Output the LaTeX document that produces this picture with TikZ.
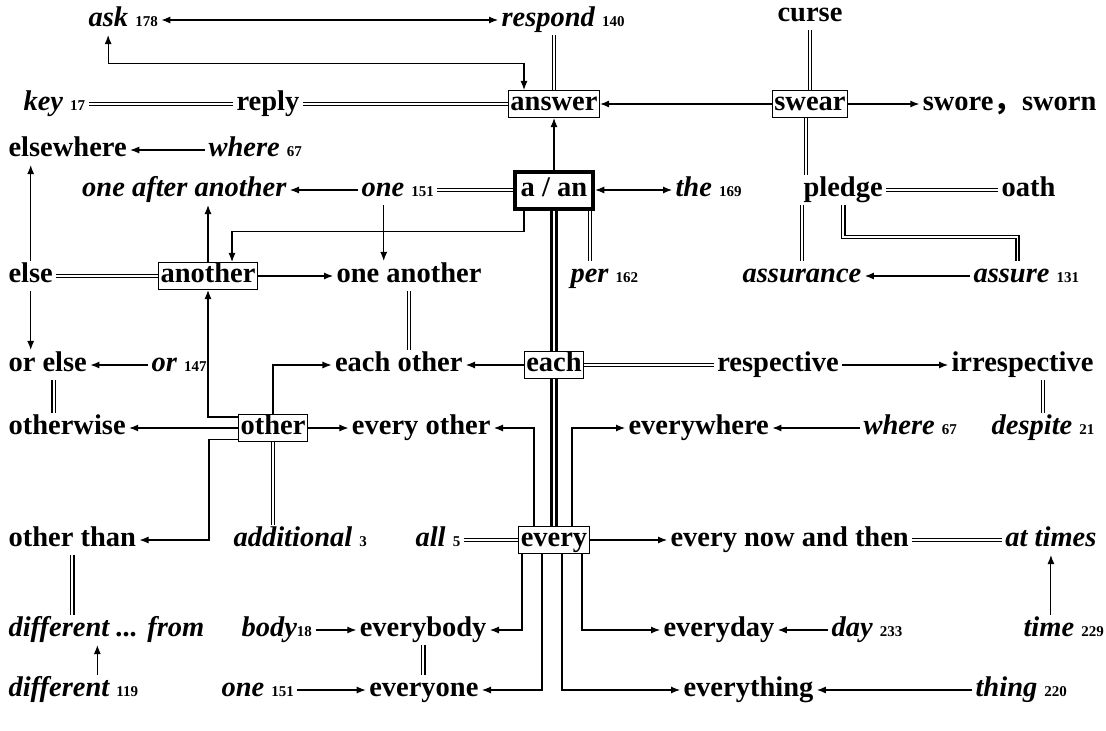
\documentclass[tikz,border=0pt]{standalone}
\usepackage{fontspec}
\setmainfont{Liberation Serif}
\newfontfamily\cjk{Noto Sans CJK SC}
\usetikzlibrary{arrows.meta}
\newcommand\freq[1]{{\upshape\fontsize{15}{15}\selectfont #1}}
\begin{document}
\begin{tikzpicture}[x=1pt,y=1pt,>={Latex[length=9pt,width=7pt]},line width=1.1pt]
\tikzstyle{word}=[font=\fontsize{28.5}{30}\selectfont\bfseries,inner xsep=3pt,inner ysep=2pt,text height=19pt,text depth=6pt]
\tikzstyle{iword}=[word,font=\fontsize{28.5}{30}\selectfont\bfseries\itshape]
\tikzstyle{box}=[word,draw,fill=white,inner xsep=2pt,inner ysep=1pt]
\tikzstyle{thickbox}=[box,line width=4pt,inner xsep=6pt,inner ysep=6pt]
\tikzstyle{syn}=[double,double distance=1.6pt,line width=1.6pt]
\tikzstyle{trunk}=[double,double distance=2.6pt,line width=2.4pt]
\useasboundingbox (0,0) rectangle (1106,-731);
\node[iword,anchor=west] (ask) at (85,-20) {ask \freq{178}};
\node[iword,anchor=west] (respond) at (498,-20) {respond \freq{140}};
\node[word] (curse) at (810,-15) {curse};
\node[iword,anchor=west] (key) at (20,-104) {key \freq{17}};
\node[word] (reply) at (268,-104) {reply};
\node[box] (answer) at (554,-104) {answer};
\node[box] (swear) at (810,-104) {swear};
\node[word,anchor=east] (swore) at (1100,-104) {swore{\cjk ，}sworn};
\node[word,anchor=west] (elsewhere) at (5,-150) {elsewhere};
\node[iword,anchor=west] (where) at (205,-150) {where \freq{67}};
\node[iword,anchor=east] (oneafter) at (290,-190) {one after another};
\node[iword,anchor=west] (one) at (358,-190) {one \freq{151}};
\node[thickbox] (aan) at (554,-190) {a / an};
\node[iword,anchor=west] (the) at (672,-190) {the \freq{169}};
\node[word,anchor=west] (pledge) at (800,-190) {pledge};
\node[word,anchor=west] (oath) at (998,-190) {oath};
\node[word,anchor=west] (else) at (5,-276) {else};
\node[box] (another) at (208,-276) {another};
\node[word,anchor=west] (oneanother) at (333,-276) {one another};
\node[iword,anchor=west] (per) at (567,-276) {per \freq{162}};
\node[iword] (assurance) at (802,-276) {assurance};
\node[iword,anchor=west] (assure) at (970,-276) {assure \freq{131}};
\node[word,anchor=west] (orelse) at (5,-365) {or else};
\node[iword,anchor=west] (or) at (148,-365) {or \freq{147}};
\node[word,anchor=east] (eachother) at (466,-365) {each other};
\node[box] (each) at (554,-365) {each};
\node[word] (respective) at (778,-365) {respective};
\node[word,anchor=east] (irrespective) at (1097,-365) {irrespective};
\node[word,anchor=west] (otherwise) at (5,-428) {otherwise};
\node[box] (other) at (273,-428) {other};
\node[word,anchor=east] (everyother) at (494,-428) {every other};
\node[word,anchor=west] (everywhere) at (625,-428) {everywhere};
\node[iword,anchor=west] (where2) at (860,-428) {where \freq{67}};
\node[iword,anchor=east] (despite) at (1098,-428) {despite \freq{21}};
\node[word,anchor=west] (otherthan) at (5,-540) {other than};
\node[iword,anchor=west] (additional) at (230,-540) {additional \freq{3}};
\node[iword,anchor=west] (all) at (412,-540) {all \freq{5}};
\node[box] (every) at (554,-540) {every};
\node[word,anchor=west] (everynow) at (667,-540) {every now and then};
\node[iword,anchor=east] (attimes) at (1100,-540) {at times};
\node[iword,anchor=west] (difffrom) at (5,-630) {different ... from};
\node[iword,anchor=west] (body) at (238,-630) {body\freq{18}};
\node[word,anchor=east] (everybody) at (490,-630) {everybody};
\node[word,anchor=west] (everyday) at (660,-630) {everyday};
\node[iword,anchor=west] (day) at (828,-630) {day \freq{233}};
\node[iword,anchor=west] (time) at (1020,-630) {time \freq{229}};
\node[iword,anchor=west] (diff) at (5,-690) {different \freq{119}};
\node[iword,anchor=west] (one2) at (218,-690) {one \freq{151}};
\node[word,anchor=east] (everyone) at (482,-690) {everyone};
\node[word,anchor=west] (everything) at (680,-690) {everything};
\node[iword,anchor=west] (thing) at (972,-690) {thing \freq{220}};
\draw[<->] (ask.east) -- (respond.west);
\draw[<->] ([xshift=-15pt]ask.south) -- ++(0,-28) -| ([xshift=-30pt]answer.north);
\draw[syn] (answer.north) -- (answer.north |- respond.south);
\draw[syn] (key.east) -- (reply.west);
\draw[syn] (reply.east) -- (answer.west);
\draw[->] (swear.west) -- (answer.east);
\draw[syn] (swear.north) -- (swear.north |- curse.south);
\draw[->] (swear.east) -- (swore.west);
\draw[syn] ([xshift=-4pt]swear.south) -- ([xshift=-4pt]swear.south |- pledge.north);
\draw[syn] (pledge.east) -- (oath.west);
\draw[syn] (assurance.north) -- (assurance.north |- pledge.south);
\draw[syn] (pledge.south) -- ++(0,-32) -| ([xshift=-9pt]assure.north);
\draw[->] (assure.west) -- (assurance.east);
\draw[->] (aan.north) -- (answer.south);
\draw[syn] (one.east) -- (aan.west);
\draw[<->] (aan.east) -- (the.west);
\draw[->] (one.west) -- (oneafter.east);
\draw[->] ([xshift=-14pt]one.south) -- ([xshift=-14pt]one.south |- oneanother.north);
\draw[->] ([xshift=-30pt]aan.south) -- ++(0,-21) -| ([xshift=24pt]another.north);
\draw[->] (another.north) -- (another.north |- oneafter.south);
\draw[->] (another.east) -- (oneanother.west);
\draw[syn] (else.east) -- (another.west);
\draw[->] (else.north) -- (else.north |- elsewhere.south);
\draw[->] (where.west) -- (elsewhere.east);
\draw[->] (else.south) -- (else.south |- orelse.north);
\draw[->] (or.west) -- (orelse.east);
\draw[syn] ([xshift=6pt]orelse.south) -- ([xshift=6pt]orelse.south |- otherwise.north);
\draw[syn] ([xshift=36pt]aan.south) -- ([xshift=36pt]aan.south |- per.north);
\draw[trunk] (aan.south) -- (each.north);
\draw[trunk] (each.south) -- (every.north);
\draw[->] (each.west) -- (eachother.east);
\draw[syn] (each.east) -- (respective.west);
\draw[->] (respective.east) -- (irrespective.west);
\draw[syn] (despite.north) -- (despite.north |- irrespective.south);
\draw[syn] (oneanother.south) -- (oneanother.south |- eachother.north);
\draw[->] ([yshift=-3pt]other.north west) -| (another.south);
\draw[->] (other.north) |- (eachother.west);
\draw[->] (other.west) -- (otherwise.east);
\draw[->] (other.east) -- (everyother.west);
\draw[->] ([yshift=3pt]other.south west) -- ++(-29,0) |- (otherthan.east);
\draw[syn] (other.south) -- (other.south |- additional.north);
\draw[->] ([xshift=-20pt]every.north) |- (everyother.east);
\draw[->] ([xshift=18pt]every.north) |- (everywhere.west);
\draw[syn] (all.east) -- (every.west);
\draw[->] (every.east) -- (everynow.west);
\draw[syn] (everynow.east) -- (attimes.west);
\draw[->] (attimes.south |- time.north) -- (attimes.south);
\draw[->] ([xshift=-32pt]every.south) |- (everybody.east);
\draw[->] ([xshift=-12pt]every.south) |- (everyone.east);
\draw[->] ([xshift=8pt]every.south) |- (everything.west);
\draw[->] ([xshift=28pt]every.south) |- (everyday.west);
\draw[->] (day.west) -- (everyday.east);
\draw[->] (thing.west) -- (everything.east);
\draw[->] (body.east) -- (everybody.west);
\draw[->] (one2.east) -- (everyone.west);
\draw[syn] (everybody.south) -- (everybody.south |- everyone.north);
\draw[syn] (otherthan.south) -- (otherthan.south |- difffrom.north);
\draw[->] ([xshift=24pt]diff.north) -- ([xshift=24pt]diff.north |- difffrom.south);
\draw[->] (where2.west) -- (everywhere.east);
\end{tikzpicture}
\end{document}
